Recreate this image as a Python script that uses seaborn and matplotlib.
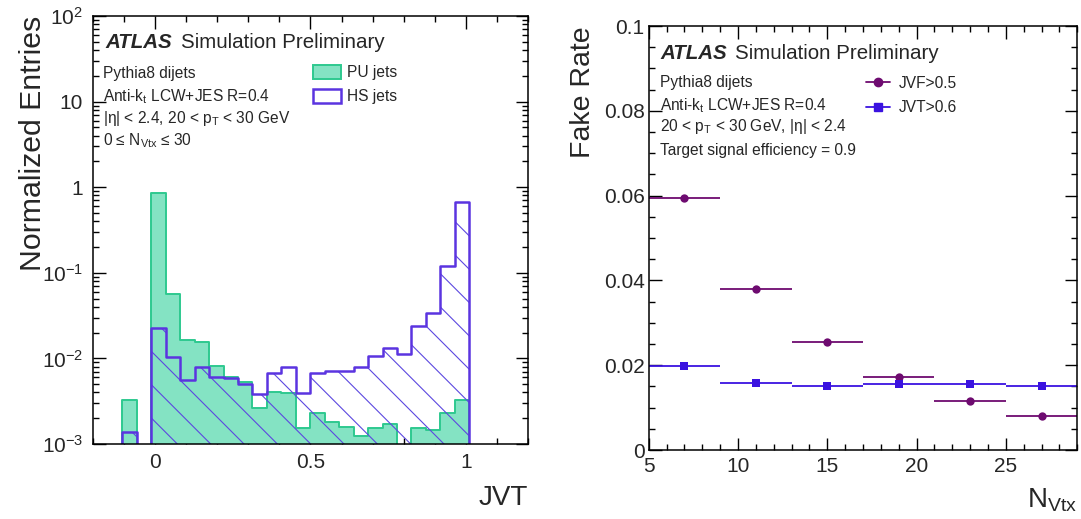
import matplotlib

matplotlib.use("Agg")
import matplotlib.pyplot as plt
import matplotlib.ticker as mticker
import numpy as np
import pandas as pd
import seaborn as sns
from matplotlib.lines import Line2D
from matplotlib.patches import Patch

# --- JVT distribution (left) ---
# bins start at the JVT=-0.1 bin, one empty bin, then 22 bins from ~0 to 1
bin_low = -0.105
bin_width = 0.0465
pu_entries = [0.00326, 0.0,
              0.863, 0.0565, 0.0164, 0.0157, 0.00822, 0.00611, 0.00534, 0.00261,
              0.00402, 0.00391, 0.00152, 0.00228, 0.00179, 0.00159, 0.00125, 0.00152,
              0.0017, 0.0, 0.00152, 0.00146, 0.00228, 0.00326]
hs_entries = [0.00139, 0.0,
              0.0229, 0.0105, 0.0056, 0.0080, 0.0060, 0.00585, 0.0050, 0.0038,
              0.0067, 0.00787, 0.00391, 0.0067, 0.00712, 0.0072, 0.0080, 0.0107,
              0.0131, 0.0114, 0.0241, 0.0336, 0.120, 0.667]
log_ticks = [1e-3, 1e-2, 1e-1, 1, 10, 100]
log_labels = ["10$^{-3}$", "10$^{-2}$", "10$^{-1}$", "1", "10", "10$^{2}$"]

# --- fake rate vs NPV (right) ---
nvtx = [7, 11, 15, 19, 23, 27]
nvtx_halfwidth = [2, 2, 2, 2, 2, 2]
jvf_rate = [0.0595, 0.0379, 0.0254, 0.0173, 0.0115, 0.0080]
jvf_err = [0.0006, 0.0004, 0.0003, 0.0003, 0.0002, 0.0002]
jvt_rate = [0.0198, 0.0159, 0.0151, 0.0156, 0.0155, 0.0152]
jvt_err = [0.0003, 0.0002, 0.0002, 0.0002, 0.0002, 0.0002]

PU_FILL = "#84e3c3"
PU_EDGE = "#2ec98f"
HS_LINE = "#5b34e0"
HS_HATCH = "#5c48e0"
JVF_COL = "#6e0b70"
JVT_COL = "#3a12e0"

sns.set_style("ticks")
plt.rcParams["font.family"] = ["Liberation Sans", "DejaVu Sans"]
plt.rcParams["mathtext.fontset"] = "custom"
plt.rcParams["mathtext.rm"] = "Liberation Sans"
plt.rcParams["mathtext.it"] = "Liberation Sans:italic"
plt.rcParams["mathtext.bf"] = "Liberation Sans:bold"
plt.rcParams["hatch.linewidth"] = 0.8
plt.rcParams["axes.linewidth"] = 1.1

fig = plt.figure(figsize=(10.81, 5.19), dpi=100)
ax1 = fig.add_axes([0.0858, 0.1445, 0.4027, 0.8247])
ax2 = fig.add_axes([0.6001, 0.1329, 0.3965, 0.8170])

# pad the histograms with empty bins so they span the whole axis
n_pad_lo, n_pad_hi = 3, 5
n_bins = len(pu_entries) + n_pad_lo + n_pad_hi
edges = bin_low - n_pad_lo * bin_width + bin_width * np.arange(n_bins + 1)
hist_df = pd.DataFrame({
    "jvt": 0.5 * (edges[:-1] + edges[1:]),
    "pu": np.concatenate([np.zeros(n_pad_lo), pu_entries, np.zeros(n_pad_hi)]),
    "hs": np.concatenate([np.zeros(n_pad_lo), hs_entries, np.zeros(n_pad_hi)]),
})
bin_list = edges.tolist()

ax1.set_yscale("log")
sns.histplot(data=hist_df, x="jvt", weights="pu", bins=bin_list, element="step",
             fill=True, color=PU_EDGE, facecolor=PU_FILL, edgecolor=PU_EDGE,
             linewidth=1.4, ax=ax1)
sns.histplot(data=hist_df, x="jvt", weights="hs", bins=bin_list, element="step",
             fill=True, color=HS_HATCH, facecolor="none", edgecolor=HS_HATCH,
             linewidth=0, hatch="\\", ax=ax1)
sns.histplot(data=hist_df, x="jvt", weights="hs", bins=bin_list, element="step",
             fill=False, color=HS_LINE, linewidth=1.8, ax=ax1)

ax1.set_xlim(-0.2, 1.2)
ax1.set_ylim(1e-3, 1e2)
ax1.yaxis.set_major_locator(mticker.FixedLocator(log_ticks))
ax1.yaxis.set_major_formatter(mticker.FixedFormatter(log_labels))
ax1.yaxis.set_minor_locator(mticker.LogLocator(base=10, subs=np.arange(2, 10)))
ax1.yaxis.set_minor_formatter(mticker.NullFormatter())
ax1.xaxis.set_major_locator(mticker.MultipleLocator(0.5))
ax1.xaxis.set_minor_locator(mticker.MultipleLocator(0.1))
ax1.xaxis.set_major_formatter(mticker.FormatStrFormatter("%g"))
ax1.tick_params(axis="x", which="major", pad=6.5)
ax1.tick_params(axis="y", which="major", pad=7)
ax1.set_xlabel("JVT", fontsize=20, loc="right")
ax1.set_ylabel("Normalized Entries", fontsize=21.8, loc="top")
ax1.xaxis.set_label_coords(1.0, -0.095)
ax1.yaxis.set_label_coords(-0.105, 1.0)

ax1.text(0.028, 0.938, "ATLAS", transform=ax1.transAxes, fontsize=14.8,
         fontweight="bold", fontstyle="italic", va="center")
ax1.text(0.202, 0.938, "Simulation Preliminary", transform=ax1.transAxes,
         fontsize=14.8, va="center")
left_notes = ["Pythia8 dijets",
              r"Anti-k$_\mathrm{t}$ LCW+JES R=0.4",
              r"|η| < 2.4, 20 < p$_\mathrm{T}$ < 30 GeV",
              r"0 ≤ N$_\mathrm{Vtx}$ ≤ 30"]
for txt, yy in zip(left_notes, [0.866, 0.812, 0.761, 0.708]):
    ax1.text(0.024, yy, txt, transform=ax1.transAxes, fontsize=11.2, va="center")

ax1.legend(handles=[Patch(facecolor=PU_FILL, edgecolor=PU_EDGE, linewidth=1.4),
                    Patch(facecolor="white", edgecolor=HS_LINE, linewidth=1.8)],
           labels=["PU jets", "HS jets"], loc="upper left",
           bbox_to_anchor=(0.505, 0.886), frameon=False, fontsize=11.2,
           handlelength=1.8, handleheight=1.0, handletextpad=0.4,
           labelspacing=0.55, borderpad=0, borderaxespad=0)

# right panel
ax2.errorbar(nvtx, jvf_rate, xerr=nvtx_halfwidth, yerr=jvf_err, fmt="none",
             ecolor=JVF_COL, elinewidth=1.3, capsize=0)
ax2.errorbar(nvtx, jvt_rate, xerr=nvtx_halfwidth, yerr=jvt_err, fmt="none",
             ecolor=JVT_COL, elinewidth=1.3, capsize=0)
sns.scatterplot(x=nvtx, y=jvf_rate, marker="o", s=36, color=JVF_COL,
                edgecolor=JVF_COL, linewidth=0, ax=ax2, zorder=3)
sns.scatterplot(x=nvtx, y=jvt_rate, marker="s", s=36, color=JVT_COL,
                edgecolor=JVT_COL, linewidth=0, ax=ax2, zorder=3)

ax2.set_xlim(5, 29)
ax2.set_ylim(0, 0.1)
ax2.xaxis.set_major_locator(mticker.MultipleLocator(5))
ax2.xaxis.set_minor_locator(mticker.MultipleLocator(1))
ax2.yaxis.set_major_locator(mticker.MultipleLocator(0.02))
ax2.yaxis.set_minor_locator(mticker.MultipleLocator(0.005))
ax2.yaxis.set_major_formatter(mticker.FormatStrFormatter("%g"))
ax2.tick_params(axis="x", which="major", pad=5)
ax2.tick_params(axis="y", which="major", pad=3)
ax2.set_xlabel(r"N$_\mathrm{Vtx}$", fontsize=20, loc="right")
ax2.set_ylabel("Fake Rate", fontsize=20.5, loc="top")
ax2.xaxis.set_label_coords(1.0, -0.085)
ax2.yaxis.set_label_coords(-0.123, 1.0)

ax2.text(0.028, 0.935, "ATLAS", transform=ax2.transAxes, fontsize=14.8,
         fontweight="bold", fontstyle="italic", va="center")
ax2.text(0.201, 0.935, "Simulation Preliminary", transform=ax2.transAxes,
         fontsize=14.8, va="center")
right_notes = ["Pythia8 dijets",
               r"Anti-k$_\mathrm{t}$ LCW+JES R=0.4",
               r"20 < p$_\mathrm{T}$ < 30 GeV, |η| < 2.4",
               "Target signal efficiency = 0.9"]
for txt, yy in zip(right_notes, [0.866, 0.811, 0.7625, 0.7075]):
    ax2.text(0.026, yy, txt, transform=ax2.transAxes, fontsize=11.2, va="center")

ax2.legend(handles=[Line2D([], [], color=JVF_COL, marker="o", markersize=6, lw=1.3),
                    Line2D([], [], color=JVT_COL, marker="s", markersize=6, lw=1.3)],
           labels=["JVF>0.5", "JVT>0.6"], loc="upper left",
           bbox_to_anchor=(0.508, 0.883), frameon=False, fontsize=11.2,
           handlelength=1.5, handletextpad=0.6, labelspacing=0.62,
           borderpad=0, borderaxespad=0)

for ax in (ax1, ax2):
    for sp in ax.spines.values():
        sp.set_visible(True)
        sp.set_color("black")
    ax.tick_params(which="both", direction="in", top=True, right=True,
                   labelsize=15, width=1.0, color="black")
    ax.tick_params(which="major", length=9)
    ax.tick_params(which="minor", length=4.5)

fig.savefig("out.png", dpi=100)
